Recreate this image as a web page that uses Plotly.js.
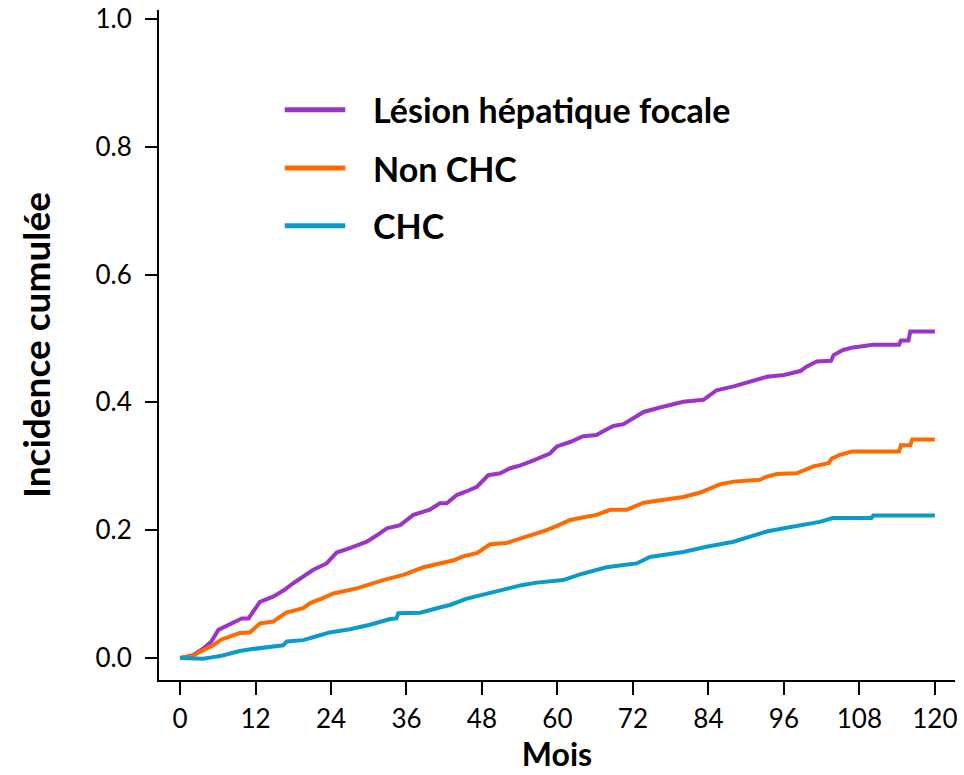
<!DOCTYPE html>
<html>
<head>
<meta charset="utf-8">
<script src="https://cdn.plot.ly/plotly-3.0.1.min.js"></script>
<style>html,body{margin:0;padding:0;background:#fff;}#chart{width:964px;height:775px;}</style>
</head>
<body>
<div id="chart"></div>
<script>
// Series names and colours
const seriesNames = ["Lésion hépatique focale", "Non CHC", "CHC"];
const seriesColors = ["#9B35C9", "#FF6A00", "#0A9BCB"];

// Months (x) and cumulative incidence (y) for each series
const lesionMonths = [0, 2, 3.7, 5, 6.1, 8, 9.8, 10.9, 12.7, 14.8, 16.5, 18, 19.6, 21.2, 23.3, 24.9, 27, 29.7, 31.3, 32.9, 35, 37.1, 39.7, 41.3, 42.4, 44, 45.6, 47.2, 49, 50.9, 52.5, 54, 55.6, 57.2, 58.8, 59.9, 62, 64.1, 66.2, 67.5, 68.9, 70.5, 72.1, 73.7, 76.3, 78.2, 80, 83.2, 84.3, 85.3, 88, 90.6, 93.3, 96, 98.6, 99.6, 101.2, 103.5, 103.9, 105.4, 107, 110.2, 114.3, 114.6, 115.8, 116.1, 120];
const lesionValues = [0, 0.004, 0.015, 0.026, 0.044, 0.054, 0.062, 0.062, 0.088, 0.096, 0.106, 0.117, 0.127, 0.138, 0.148, 0.165, 0.172, 0.182, 0.192, 0.203, 0.208, 0.224, 0.232, 0.242, 0.242, 0.255, 0.261, 0.268, 0.286, 0.289, 0.297, 0.301, 0.307, 0.313, 0.32, 0.331, 0.338, 0.347, 0.349, 0.356, 0.363, 0.366, 0.375, 0.385, 0.392, 0.397, 0.401, 0.404, 0.412, 0.419, 0.425, 0.432, 0.44, 0.443, 0.449, 0.456, 0.464, 0.465, 0.474, 0.482, 0.486, 0.49, 0.49, 0.497, 0.497, 0.511, 0.511];

const nonChcMonths = [0, 2, 3.2, 5.3, 6.6, 9.5, 11.1, 12.7, 14.8, 16.9, 19.6, 20.7, 22.5, 24.4, 28.1, 30.2, 32.3, 35.5, 37.1, 38.7, 41.3, 43.5, 45, 47.2, 49.3, 51.9, 53.8, 55.6, 58.3, 60.2, 62, 64, 66.2, 68.4, 71, 73.7, 76.8, 80, 82.7, 84.3, 85.9, 88, 92.2, 93.3, 94.9, 98, 99.1, 100.7, 103.1, 103.6, 104.9, 106.8, 114.3, 114.6, 116.1, 116.4, 120];
const nonChcValues = [0, 0.003, 0.01, 0.02, 0.029, 0.039, 0.04, 0.054, 0.057, 0.071, 0.078, 0.086, 0.093, 0.101, 0.109, 0.116, 0.122, 0.13, 0.136, 0.142, 0.148, 0.153, 0.159, 0.164, 0.178, 0.18, 0.186, 0.192, 0.2, 0.208, 0.216, 0.22, 0.224, 0.232, 0.232, 0.243, 0.247, 0.252, 0.259, 0.266, 0.272, 0.276, 0.279, 0.284, 0.288, 0.289, 0.294, 0.3, 0.305, 0.312, 0.318, 0.323, 0.323, 0.333, 0.333, 0.342, 0.342];

const chcMonths = [0, 3.7, 5, 6.4, 8, 9.5, 11.5, 13.8, 16.4, 17, 19.6, 21.7, 23.8, 27, 30.2, 33.4, 34.4, 34.7, 38.2, 41.3, 42.9, 45.6, 48.2, 50, 51.9, 54.3, 56.7, 60.9, 63.6, 65.7, 67.8, 70.2, 72.6, 74.7, 77.4, 80, 83.7, 85.9, 88, 90.6, 93.3, 96, 98.6, 101.7, 103.8, 109.9, 110.2, 120];
const chcValues = [0, -0.001, 0.001, 0.003, 0.007, 0.011, 0.014, 0.017, 0.02, 0.026, 0.028, 0.034, 0.04, 0.045, 0.052, 0.061, 0.062, 0.07, 0.071, 0.079, 0.083, 0.093, 0.099, 0.104, 0.109, 0.114, 0.118, 0.122, 0.131, 0.137, 0.142, 0.145, 0.148, 0.158, 0.162, 0.166, 0.174, 0.178, 0.182, 0.19, 0.198, 0.203, 0.208, 0.213, 0.219, 0.219, 0.223, 0.223];

const xTicks = [0, 12, 24, 36, 48, 60, 72, 84, 96, 108, 120];
const yTicks = [0, 0.2, 0.4, 0.6, 0.8, 1.0];
const xTitle = "Mois";
const yTitle = "Incidence cumulée";

const FONT = "Lato, 'Open Sans', sans-serif";

const xs = [lesionMonths, nonChcMonths, chcMonths];
const ys = [lesionValues, nonChcValues, chcValues];

const traces = seriesNames.map((name, i) => ({
  type: "scatter",
  mode: "lines",
  name: name,
  x: xs[i],
  y: ys[i],
  line: {color: seriesColors[i], width: 4, shape: "linear"},
  showlegend: false,
  hoverinfo: "skip"
}));

// Manual legend drawn with shapes + annotations (long line swatches)
const legendY = [0.851, 0.764, 0.678];
const shapes = seriesNames.map((n, i) => ({
  type: "line", xref: "paper", yref: "paper",
  x0: 0.158, x1: 0.234, y0: legendY[i], y1: legendY[i],
  line: {color: seriesColors[i], width: 5}
}));
const annotations = seriesNames.map((n, i) => ({
  xref: "paper", yref: "paper", x: 0.266, y: legendY[i],
  xanchor: "left", yanchor: "middle", showarrow: false,
  text: "<b>" + n + "</b>",
  font: {family: FONT, size: 34, color: "#000"}
}));

const layout = {
  width: 964, height: 775,
  margin: {l: 159, r: 9, t: 10, b: 95, pad: 0},
  paper_bgcolor: "#fff", plot_bgcolor: "#fff",
  showlegend: false,
  xaxis: {
    range: [-3.34, 123.2],
    tickvals: xTicks,
    ticktext: xTicks.map(String),
    showgrid: false, zeroline: false,
    showline: true, linecolor: "#000", linewidth: 2,
    ticks: "outside", ticklen: 13, tickwidth: 2, tickcolor: "#000",
    ticklabelstandoff: 2,
    tickfont: {family: FONT, size: 26, color: "#000"},
    title: {text: "<b>" + xTitle + "</b>", font: {family: FONT, size: 32, color: "#000"}, standoff: 8}
  },
  yaxis: {
    range: [-0.0344, 1.014],
    tickvals: yTicks,
    ticktext: yTicks.map(v => v.toFixed(1)),
    showgrid: false, zeroline: false,
    showline: true, linecolor: "#000", linewidth: 2,
    ticks: "outside", ticklen: 12, tickwidth: 2, tickcolor: "#000",
    ticklabelstandoff: 8,
    tickfont: {family: FONT, size: 26, color: "#000"},
    title: {text: "<b>" + yTitle + "</b>", font: {family: FONT, size: 37, color: "#000"}, standoff: 34}
  },
  shapes: shapes,
  annotations: annotations
};

Plotly.newPlot("chart", traces, layout, {staticPlot: true, displayModeBar: false});
</script>
</body>
</html>
